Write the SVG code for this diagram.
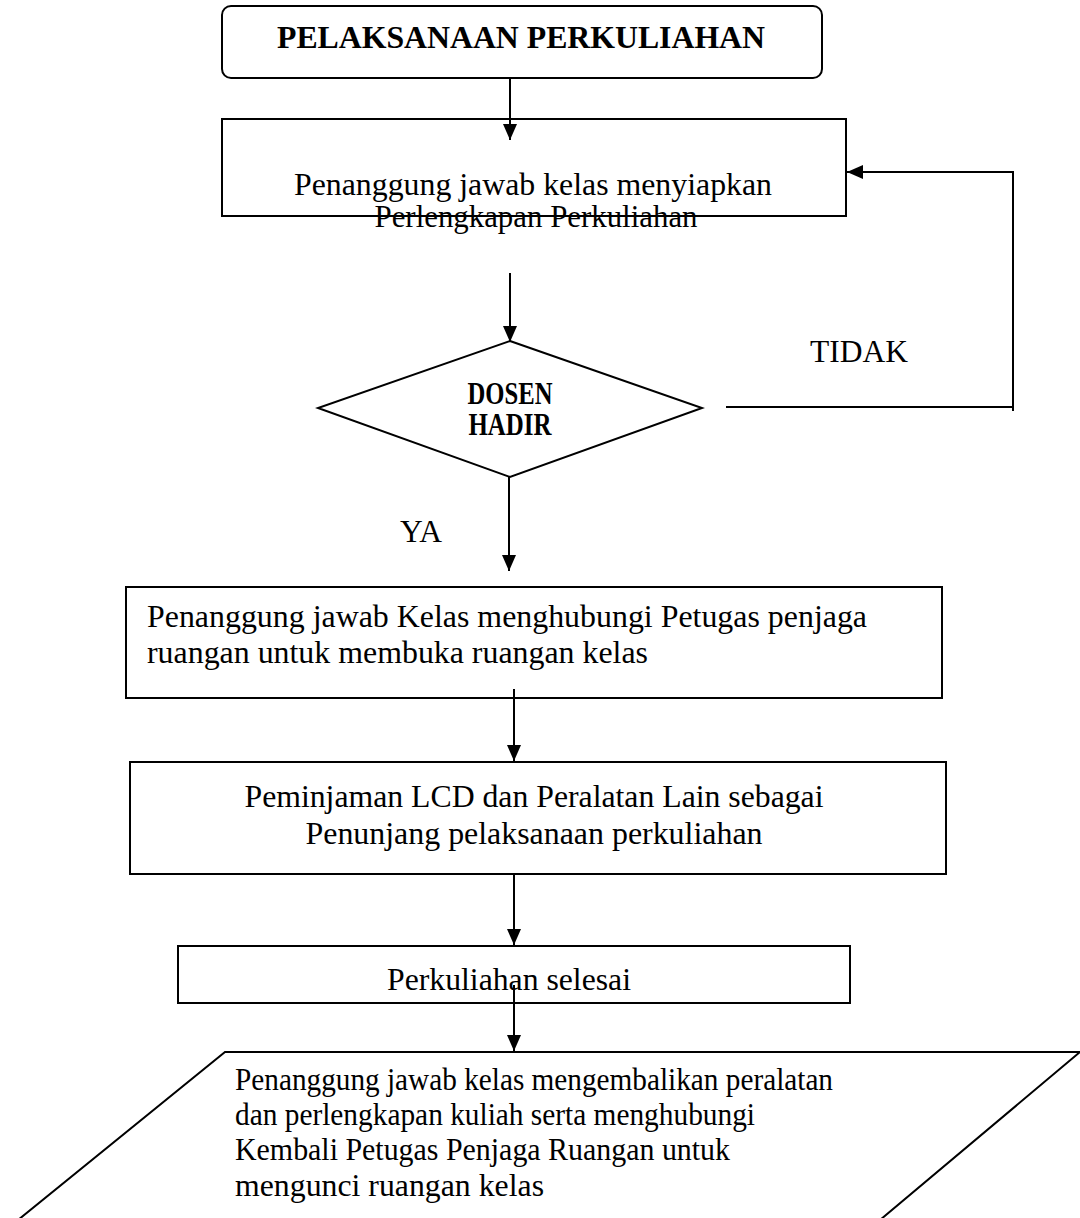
<svg xmlns="http://www.w3.org/2000/svg" width="1080" height="1218" viewBox="0 0 1080 1218">
<style>
.shape{fill:#fff;stroke:#000;stroke-width:2}
.t{font-family:"Liberation Serif","Times New Roman",serif;font-size:32px;fill:#000}
.b{font-weight:bold}
.c{text-anchor:middle}
.conn{fill:none;stroke:#000;stroke-width:2}
</style>
<defs>
<marker id="ah" markerUnits="userSpaceOnUse" markerWidth="16" markerHeight="14" refX="16" refY="7" orient="auto">
<path d="M0,0 L16,7 L0,14 z" fill="#000"/>
</marker>
</defs>
<rect width="1080" height="1218" fill="#fff"/>
<g id="start">
<rect class="shape" x="222" y="6" width="600" height="72" rx="9"/>
<text class="t b c" x="521" y="48" font-size="31" textLength="488" lengthAdjust="spacingAndGlyphs">PELAKSANAAN PERKULIAHAN</text>
</g>
<g id="siapkan">
<rect class="shape" x="222" y="119" width="624" height="97"/>
<text class="t c" x="533" y="195" textLength="478" lengthAdjust="spacingAndGlyphs">Penanggung jawab kelas menyiapkan</text>
<text class="t c" x="536" y="227" textLength="323" lengthAdjust="spacingAndGlyphs">Perlengkapan Perkuliahan</text>
</g>
<g id="dosen">
<polygon class="shape" points="510,341 702,408 510,477 318,408"/>
<text class="t b c" x="510" y="404" font-size="24" textLength="85" lengthAdjust="spacingAndGlyphs">DOSEN</text>
<text class="t b c" x="510" y="435" font-size="24" textLength="83" lengthAdjust="spacingAndGlyphs">HADIR</text>
</g>
<g id="hubungi">
<rect class="shape" x="126" y="587" width="816" height="111"/>
<text class="t" x="147" y="627" textLength="720" lengthAdjust="spacingAndGlyphs">Penanggung jawab Kelas menghubungi Petugas penjaga</text>
<text class="t" x="147" y="663" textLength="501" lengthAdjust="spacingAndGlyphs">ruangan untuk membuka ruangan kelas</text>
</g>
<g id="pinjam">
<rect class="shape" x="130" y="762" width="816" height="112"/>
<text class="t c" x="534" y="807" textLength="579" lengthAdjust="spacingAndGlyphs">Peminjaman LCD dan Peralatan Lain sebagai</text>
<text class="t c" x="534" y="844" textLength="457" lengthAdjust="spacingAndGlyphs">Penunjang pelaksanaan perkuliahan</text>
</g>
<g id="selesai">
<rect class="shape" x="178" y="946" width="672" height="57"/>
<text class="t c" x="509" y="990" textLength="244" lengthAdjust="spacingAndGlyphs">Perkuliahan selesai</text>
</g>
<g id="kembali">
<polygon class="shape" points="225,1052 1080,1052 880,1220 18,1220"/>
<text class="t" x="235" y="1090" font-size="29" textLength="598" lengthAdjust="spacingAndGlyphs">Penanggung jawab kelas mengembalikan peralatan</text>
<text class="t" x="235" y="1125" font-size="29" textLength="520" lengthAdjust="spacingAndGlyphs">dan perlengkapan kuliah serta menghubungi</text>
<text class="t" x="235" y="1160" font-size="29" textLength="495" lengthAdjust="spacingAndGlyphs">Kembali Petugas Penjaga Ruangan untuk</text>
<text class="t" x="235" y="1196" font-size="29" textLength="309" lengthAdjust="spacingAndGlyphs">mengunci ruangan kelas</text>
</g>
<g id="connectors">
<path class="conn" d="M510,78 V140" marker-end="url(#ah)"/>
<path class="conn" d="M510,273 V342" marker-end="url(#ah)"/>
<path class="conn" d="M509,477 V571" marker-end="url(#ah)"/>
<path class="conn" d="M514,689 V761" marker-end="url(#ah)"/>
<path class="conn" d="M514,874 V945" marker-end="url(#ah)"/>
<path class="conn" d="M514,985 V1051" marker-end="url(#ah)"/>
<path class="conn" d="M726,407 H1013"/>
<path class="conn" d="M1013,411 V172 H847" marker-end="url(#ah)"/>
<text class="t" x="810" y="362" textLength="98" lengthAdjust="spacingAndGlyphs">TIDAK</text>
<text class="t" x="400" y="542" font-size="31" textLength="42" lengthAdjust="spacingAndGlyphs">YA</text>
</g>
</svg>
